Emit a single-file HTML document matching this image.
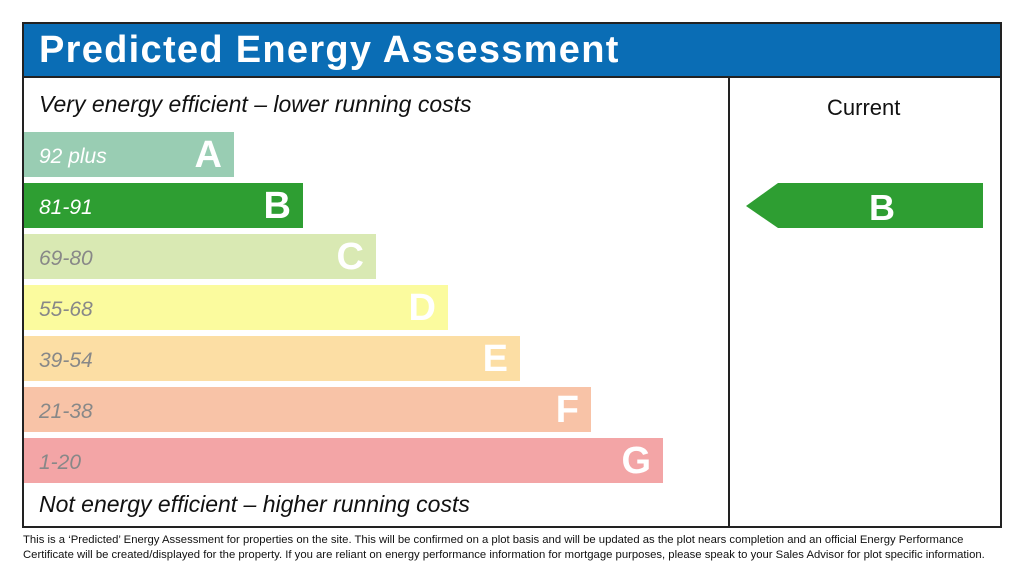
<!DOCTYPE html>
<html><head><meta charset="utf-8"><style>
body{margin:0;width:1024px;height:576px;background:#fff;position:relative;overflow:hidden;font-family:"Liberation Sans",Arial,sans-serif}
div{position:absolute;box-sizing:border-box}
.box{left:22px;top:22px;width:980px;height:506px;border:2px solid #222}
.hdr{left:24px;top:24px;width:976px;height:54px;background:#0a6db5;border-bottom:2px solid #222;color:#fff;font-weight:bold;font-size:38px;line-height:52px;padding-left:15px;letter-spacing:1.3px}
.vl{left:728px;top:78px;width:2px;height:448px;background:#222}
.it{font-style:italic;font-size:23px;color:#111;left:39px}
.bar{left:24px;height:45px}
.bar .l{position:absolute;left:15px;top:2px;line-height:45px;font-style:italic;font-size:21px}
.bar .c{position:absolute;right:12px;top:1px;line-height:45px;font-weight:bold;font-size:38px;color:#fff}
.foot{left:23px;top:533px;width:985px;font-size:11.3px;line-height:15px;color:#111}
</style></head><body>
<div class="box"></div>
<div class="hdr">Predicted Energy Assessment</div>
<div class="vl"></div>
<div class="it" style="top:91px">Very energy efficient – lower running costs</div>
<div class="it" style="top:491px">Not energy efficient – higher running costs</div>
<div style="left:827px;top:95px;font-size:22px;color:#111">Current</div>
<div class="bar" style="top:132px;width:210px;background:#99cdb3"><span class="l" style="color:#fff">92 plus</span><span class="c">A</span></div>
<div class="bar" style="top:183px;width:279px;background:#2e9e32"><span class="l" style="color:#fff">81-91</span><span class="c">B</span></div>
<div class="bar" style="top:234px;width:352px;background:#d9e9b3"><span class="l" style="color:#888">69-80</span><span class="c">C</span></div>
<div class="bar" style="top:285px;width:424px;background:#fbfb9e"><span class="l" style="color:#888">55-68</span><span class="c">D</span></div>
<div class="bar" style="top:336px;width:496px;background:#fcdea4"><span class="l" style="color:#888">39-54</span><span class="c">E</span></div>
<div class="bar" style="top:387px;width:567px;background:#f8c3a7"><span class="l" style="color:#888">21-38</span><span class="c">F</span></div>
<div class="bar" style="top:438px;width:639px;background:#f3a5a6"><span class="l" style="color:#888">1-20</span><span class="c">G</span></div>
<svg style="position:absolute;left:0;top:0" width="1024" height="576"><polygon points="746,206 778,183 983,183 983,228 778,228" fill="#2e9e32"/><text x="882" y="220" text-anchor="middle" font-family="Liberation Sans,Arial,sans-serif" font-weight="bold" font-size="36" fill="#fff">B</text></svg>
<div class="foot">This is a ‘Predicted’ Energy Assessment for properties on the site. This will be confirmed on a plot basis and will be updated as the plot nears completion and an official Energy Performance Certificate will be created/displayed for the property. If you are reliant on energy performance information for mortgage purposes, please speak to your Sales Advisor for plot specific information.</div>
</body></html>
